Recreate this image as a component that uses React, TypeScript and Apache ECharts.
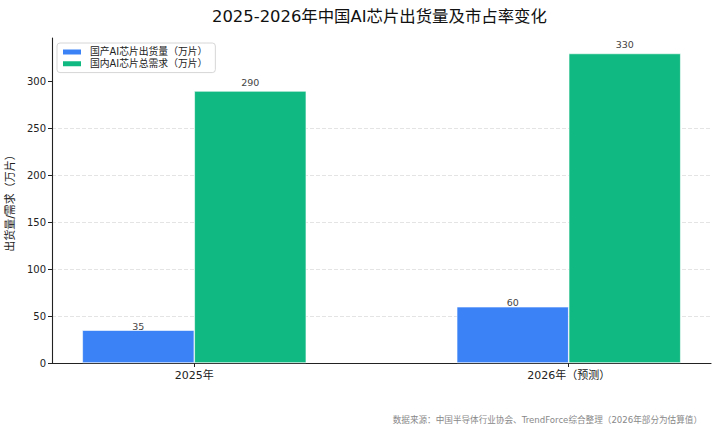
import React, { useEffect, useRef } from "react";
import * as echarts from "echarts";

const categories = ["2025年", "2026年（预测）"];
const domesticShipment = [35, 60];
const domesticDemand = [290, 330];
const seriesNames = ["国产AI芯片出货量（万片）", "国内AI芯片总需求（万片）"];
const yTicks = [0, 50, 100, 150, 200, 250, 300];
const titleText = "2025-2026年中国AI芯片出货量及市占率变化";
const yAxisName = "出货量/需求（万片）";
const sourceText = "数据来源：中国半导体行业协会、TrendForce综合整理（2026年部分为估算值）";

const FONT = '"DejaVu Sans", "Noto Sans CJK SC", sans-serif';

export default function App() {
  const ref = useRef<HTMLDivElement>(null);
  useEffect(() => {
    if (!ref.current) return;
    const chart = echarts.init(ref.current, undefined, { renderer: "svg" });
    const xIdx = categories.map((_, i) => i);
    chart.setOption({
      animation: false,
      backgroundColor: "#ffffff",
      textStyle: { fontFamily: FONT },
      title: {
        text: titleText,
        left: 212,
        top: 8,
        padding: 0,
        textStyle: { fontSize: 16.4, fontWeight: "normal", color: "#111", fontFamily: FONT },
      },
      legend: {
        orient: "vertical",
        left: 57,
        top: 43,
        padding: [4, 8, 4, 4],
        itemWidth: 20,
        itemHeight: 7,
        itemGap: 2,
        icon: "rect",
        borderColor: "#cccccc",
        borderWidth: 0.8,
        borderRadius: 3,
        backgroundColor: "rgba(255,255,255,0.85)",
        textStyle: { fontSize: 9.8, color: "#222", fontFamily: FONT, padding: [0, 0, 0, 3] },
        data: seriesNames,
      },
      grid: { left: 52, right: 8, top: 38, bottom: 70, containLabel: false, outerBoundsMode: "none" },
      xAxis: {
        type: "value",
        min: -0.38,
        max: 1.38,
        axisLine: { show: true, onZero: false, lineStyle: { color: "#222", width: 1.1 } },
        axisTick: { show: true, customValues: xIdx, length: 4, lineStyle: { color: "#222" } },
        axisLabel: {
          customValues: xIdx,
          formatter: (v: number) => categories[Math.round(v)] ?? "",
          fontSize: 11,
          color: "#222",
          margin: 7,
          fontFamily: FONT,
        },
        splitLine: { show: false },
      },
      yAxis: {
        type: "value",
        min: 0,
        max: 346.5,
        interval: 50,
        name: yAxisName,
        nameLocation: "middle",
        nameRotate: 90,
        nameGap: 29,
        nameTextStyle: { fontSize: 11, color: "#222", fontFamily: FONT },
        axisLine: { show: true, onZero: false, lineStyle: { color: "#222", width: 1.1 } },
        axisTick: { show: true, customValues: yTicks, length: 4, lineStyle: { color: "#222" } },
        axisLabel: {
          customValues: yTicks,
          fontSize: 10,
          color: "#222",
          margin: 6,
          fontFamily: FONT,
        },
        splitLine: {
          show: true,
          showMaxLine: false,
          showMinLine: false,
          lineStyle: { color: "#dddddd", type: [4, 2], width: 0.8 },
        },
      },
      series: [
        {
          name: seriesNames[0],
          type: "bar",
          barWidth: 112,
          barGap: "0%",
          itemStyle: { color: "#3B82F6", borderColor: "#ffffff", borderWidth: 0.6 },
          label: { show: true, position: "top", distance: -1, fontSize: 9.5, color: "#444", fontFamily: FONT },
          data: domesticShipment.map((v, i) => [i, v]),
        },
        {
          name: seriesNames[1],
          type: "bar",
          barWidth: 112,
          barGap: "0%",
          itemStyle: { color: "#10B981", borderColor: "#ffffff", borderWidth: 0.6 },
          label: { show: true, position: "top", distance: 4, fontSize: 9.5, color: "#444", fontFamily: FONT },
          data: domesticDemand.map((v, i) => [i, v]),
        },
      ],
      graphic: [
        {
          type: "text",
          right: 17,
          top: 416,
          style: { text: sourceText, fontSize: 8.6, fill: "#888", fontFamily: FONT },
        },
      ],
    });
    return () => chart.dispose();
  }, []);
  return <div ref={ref} style={{ position: "fixed", left: 0, top: 0, width: 719, height: 433 }} />;
}
